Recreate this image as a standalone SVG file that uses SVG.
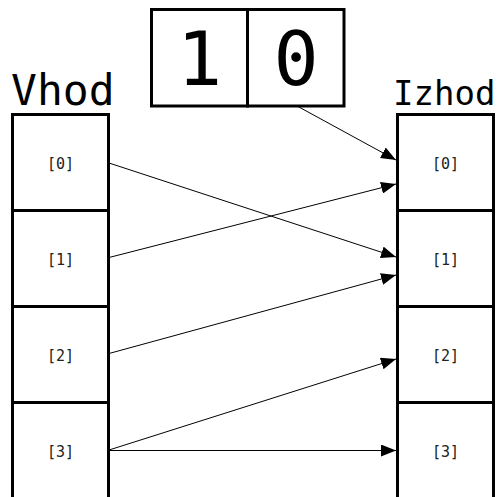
<svg xmlns="http://www.w3.org/2000/svg" width="497" height="497" viewBox="0 0 497 497">
<style>
.box{fill:#fff;stroke:#000;stroke-width:3}
.lbl{font-family:"DejaVu Sans Mono",monospace;font-size:15px;text-anchor:middle;fill:#222}
.big{font-family:"DejaVu Sans Mono",monospace;font-size:75px;text-anchor:middle;fill:#000}
.title{font-family:"DejaVu Sans Mono",monospace;fill:#000}
.edge{stroke:#000;stroke-width:1;fill:none;marker-end:url(#ah)}
</style>
<defs>
<marker id="ah" markerWidth="15" markerHeight="12" refX="15" refY="6" orient="auto" markerUnits="userSpaceOnUse">
<path d="M0,0 L15,6 L0,12 Z" fill="#000"/>
</marker>
</defs>
<rect width="497" height="497" fill="#fff"/>
<g id="bits">
<rect class="box" x="151.5" y="9.5" width="96" height="96.5"/>
<rect class="box" x="247.5" y="9.5" width="96.5" height="96.5"/>
<text class="big" x="199.5" y="85">1</text>
<text class="big" x="296" y="85">0</text>
</g>
<g id="vhod">
<text class="title" x="11" y="105" font-size="43">Vhod</text>
<g id="in0"><rect class="box" x="12.5" y="114.5" width="96" height="96"/><text class="lbl" x="60.5" y="169">[0]</text></g>
<g id="in1"><rect class="box" x="12.5" y="210.5" width="96" height="96"/><text class="lbl" x="60.5" y="265">[1]</text></g>
<g id="in2"><rect class="box" x="12.5" y="306.5" width="96" height="96"/><text class="lbl" x="60.5" y="361">[2]</text></g>
<g id="in3"><rect class="box" x="12.5" y="402.5" width="96" height="100"/><text class="lbl" x="60.5" y="457">[3]</text></g>
</g>
<g id="izhod">
<text class="title" x="393" y="105" font-size="34">Izhod</text>
<g id="out0"><rect class="box" x="397.5" y="114.5" width="96" height="96"/><text class="lbl" x="445.5" y="169">[0]</text></g>
<g id="out1"><rect class="box" x="397.5" y="210.5" width="96" height="96"/><text class="lbl" x="445.5" y="265">[1]</text></g>
<g id="out2"><rect class="box" x="397.5" y="306.5" width="96" height="96"/><text class="lbl" x="445.5" y="361">[2]</text></g>
<g id="out3"><rect class="box" x="397.5" y="402.5" width="96" height="100"/><text class="lbl" x="445.5" y="457">[3]</text></g>
</g>
<g id="connectors">
<line class="edge" x1="298" y1="106.5" x2="396" y2="160"/>
<line class="edge" x1="109" y1="163" x2="396" y2="257"/>
<line class="edge" x1="109" y1="257.5" x2="396" y2="184"/>
<line class="edge" x1="109" y1="353.5" x2="396" y2="275"/>
<line class="edge" x1="109" y1="450" x2="396" y2="359"/>
<line class="edge" x1="109" y1="450.5" x2="396" y2="450.5"/>
</g>
</svg>
